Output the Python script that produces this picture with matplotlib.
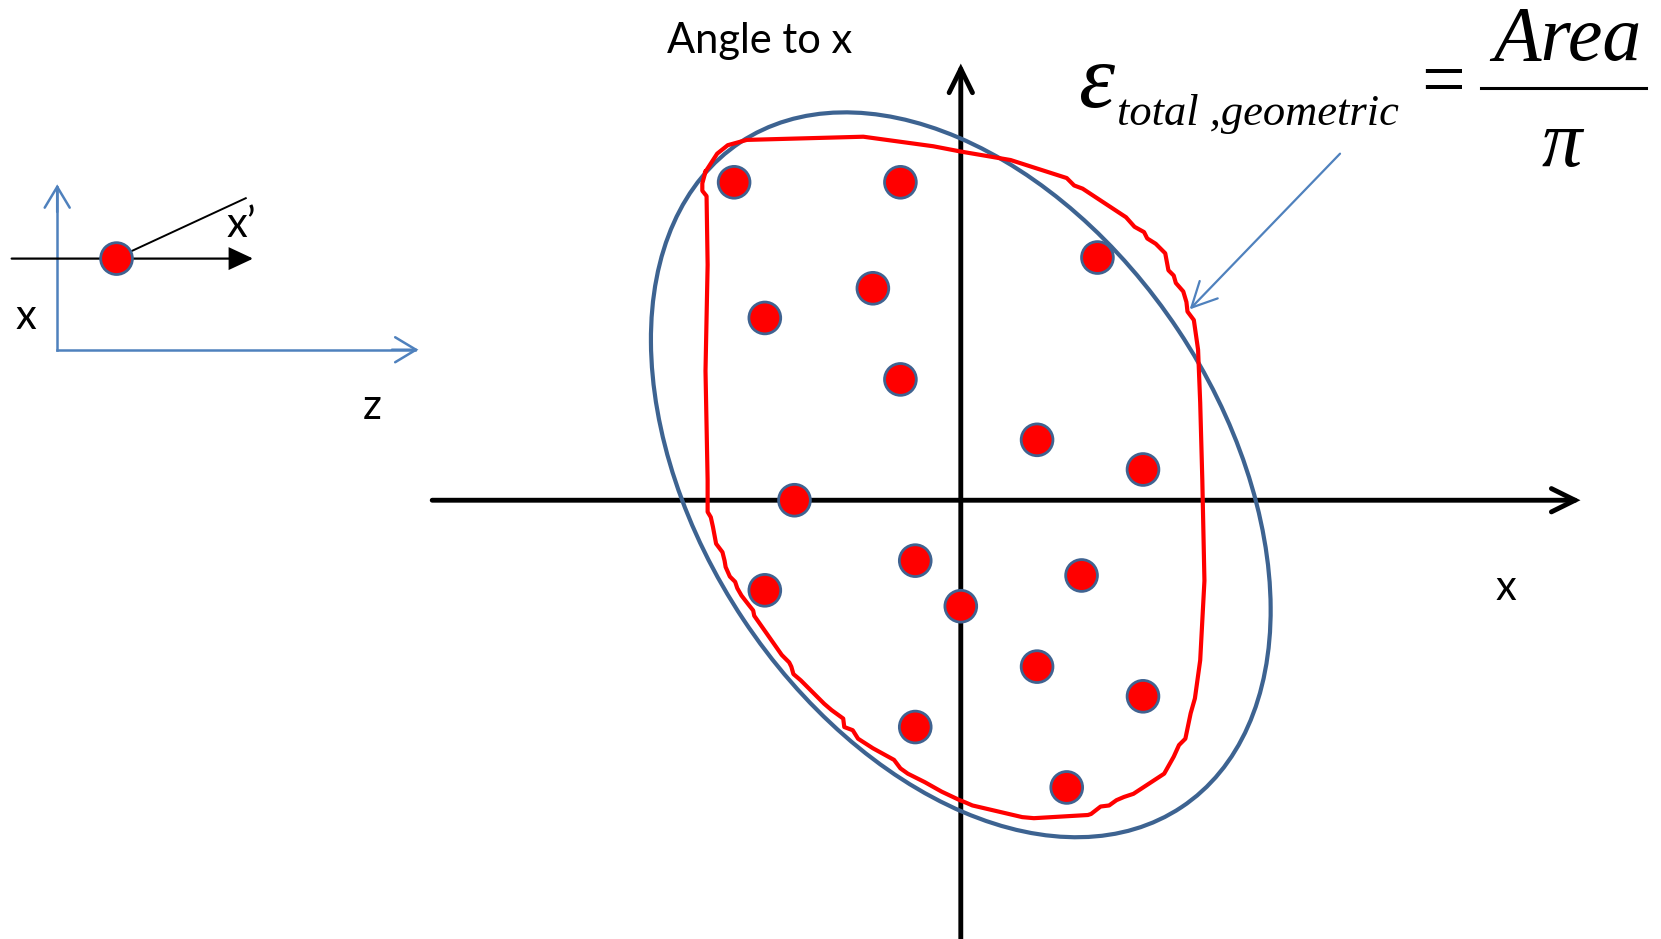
import matplotlib
matplotlib.use("Agg")
import matplotlib.pyplot as plt
from matplotlib.patches import Ellipse, Circle

# picture coordinates (reference shown at 1568 x 886, y down)
W, H = 1568, 886

# particle positions in (x, x') phase space
dot_x = [693, 850, 1036, 824, 722, 850, 979, 1079, 750, 864, 722, 1021, 907, 979, 1079, 864, 1007]
dot_y = [172, 172, 243, 272, 300, 358, 415, 443, 472, 529, 557, 543, 572, 629, 657, 686, 743]
dot_r = 15

# hand drawn boundary around the particles
red_x = [666, 677, 687, 705, 815, 881, 907, 954, 1007, 1014, 1022, 1063, 1071, 1080, 1083, 1091,
         1100, 1103, 1108, 1110, 1117, 1120, 1121, 1127, 1131, 1133, 1135, 1137, 1133, 1128, 1124,
         1119, 1113, 1108, 1099, 1070, 1061, 1054, 1047, 1039, 1030, 1027, 976, 965, 918, 911, 906,
         889, 873, 857, 850, 844, 824, 810, 805, 797, 796, 785, 778, 772, 756, 749, 747, 745, 738,
         712, 711, 707, 700, 696, 694, 689, 685, 684, 682, 676, 673, 671, 668, 668, 666, 668, 667,
         663, 663, 666]
red_y = [162, 145, 137, 132, 129, 138, 143, 151, 168, 175, 178, 205, 214, 219, 225, 230,
         239, 255, 260, 267, 275, 285, 294, 302, 330, 380, 453, 548, 623, 659, 673,
         697, 703, 714, 730, 749, 752, 755, 760, 761, 768, 769, 772, 771, 760, 757, 755,
         747, 738, 730, 725, 717, 706, 697, 689, 686, 678, 670, 664, 658, 642, 636, 629, 625, 618,
         581, 576, 571, 562, 555, 549, 544, 535, 529, 521, 513, 497, 488, 483, 453, 350, 250, 185,
         180, 173, 162]

# fitted rms ellipse
ell_center = (907, 448)
ell_width, ell_height, ell_angle = 753, 493, 56.4

# main axes
x_axis = ((408, 472), (1492, 472))
y_axis = ((907, 886), (907, 60))

BLACK = "black"
RED = "#ff0000"
DOT_EDGE = "#3f6391"
ELL_BLUE = "#3d6391"
LIGHT_BLUE = "#4f81bd"

fig = plt.figure(figsize=(16.61, 9.39), dpi=100)
ax = fig.add_axes([0, 0, 1, 1])
ax.set_xlim(0, W)
ax.set_ylim(H, 0)
ax.axis("off")


def arrow(tail, head, color, lw, style="->", hl=0.8, hw=0.45, ms=20):
    ax.annotate("", xy=head, xytext=tail,
                arrowprops=dict(arrowstyle=f"{style},head_length={hl},head_width={hw}",
                                color=color, lw=lw, shrinkA=0, shrinkB=0,
                                mutation_scale=ms, joinstyle="miter", capstyle="round"))


# main axes with open arrow heads
arrow(x_axis[0], x_axis[1], BLACK, 3.5, hl=0.85, hw=0.42)
arrow(y_axis[0], y_axis[1], BLACK, 3.5, hl=0.85, hw=0.42)

# ellipse and boundary
ax.add_patch(Ellipse(ell_center, ell_width, ell_height, angle=ell_angle,
                     fill=False, ec=ELL_BLUE, lw=3.0, zorder=3))
ax.plot(red_x, red_y, color=RED, lw=3.0, zorder=4, solid_joinstyle="round")

for x, y in zip(dot_x, dot_y):
    ax.add_patch(Circle((x, y), dot_r, fc=RED, ec=DOT_EDGE, lw=2.0, zorder=5))

# pointer from formula to the boundary
arrow((1265, 145), (1123, 292), LIGHT_BLUE, 1.6, hl=0.9, hw=0.45)

# small inset: x' is the angle of the trajectory to the z axis
ax.plot([54, 54], [330, 176], color=LIGHT_BLUE, lw=1.8)
ax.plot([54, 392], [330, 330], color=LIGHT_BLUE, lw=1.8)
arrow((54, 200), (54, 174), LIGHT_BLUE, 1.8, hl=0.75, hw=0.45)
arrow((370, 330), (395, 330), LIGHT_BLUE, 1.8, hl=0.75, hw=0.45)
arrow((11, 244), (239, 244), BLACK, 1.6, style="-|>", hl=0.75, hw=0.35)
ax.plot([124, 232], [237, 187], color=BLACK, lw=1.4)
ax.add_patch(Circle((110, 244), dot_r, fc=RED, ec=DOT_EDGE, lw=2.0, zorder=5))

label_font = dict(family="Lato", fontsize=30, color=BLACK)
ax.text(630, 50, "Angle to x", ha="left", va="baseline", **label_font)
ax.text(1422, 566, "x", ha="center", va="baseline", **label_font)
ax.text(351, 395, "z", ha="center", va="baseline", **label_font)
ax.text(24, 310, "x", ha="center", va="baseline", **label_font)
ax.text(214, 224, "x\u2019", ha="left", va="baseline", **label_font)

# emittance formula
serif = dict(family="Liberation Serif", style="italic", color=BLACK)
ax.text(1018, 101, "\u03b5", ha="left", va="baseline", fontsize=66, **serif)
ax.text(1054, 118, "total ,geometric", ha="left", va="baseline", fontsize=32, **serif)
ax.text(1362, 99, "=", ha="center", va="baseline", fontsize=56,
        family="Liberation Serif", color=BLACK)
ax.plot([1398, 1554], [83.5, 83.5], color=BLACK, lw=2.2)
ax.text(1480, 57, "Area", ha="center", va="baseline", fontsize=56, **serif)
ax.text(1474, 157, "\u03c0", ha="center", va="baseline", fontsize=58, **serif)

fig.savefig("out.png", dpi=100)
